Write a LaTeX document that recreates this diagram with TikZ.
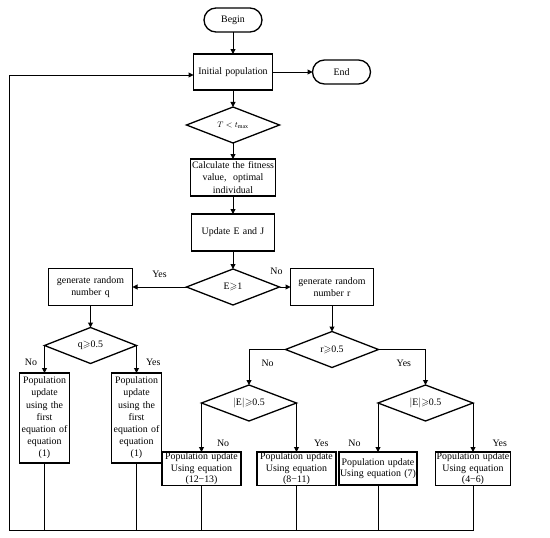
\documentclass[tikz,border=0pt]{standalone}
\usepackage{fontspec}
\usepackage{amssymb}
\setmainfont{Liberation Serif}
\usetikzlibrary{arrows.meta, positioning, shapes.geometric}
\tikzstyle{term} = [rectangle, rounded corners=12pt, draw, line width=1.3pt,
                    minimum width=58pt, minimum height=24pt, outer sep=0pt]
\tikzstyle{proc} = [rectangle, draw, line width=1.3pt, minimum height=37pt,
                    text width=81pt, inner sep=1pt, align=center, outer sep=0pt]
\tikzstyle{dec}  = [diamond, draw, line width=1.3pt, minimum width=93pt,
                    minimum height=36pt, aspect=2.6, inner sep=0pt, outer sep=0pt]
\tikzstyle{tall} = [proc, text width=48pt, minimum height=90pt]
\tikzstyle{upd}  = [proc, text width=77pt, minimum height=33pt,
                    font=\fontsize{9.9}{11.2}\selectfont]
\tikzstyle{arr}  = [-{Triangle[length=5pt, width=5pt]}, line width=1pt]
\tikzstyle{wire} = [line width=1pt]
\tikzstyle{lab}  = [inner sep=1pt]

\begin{document}
\begin{tikzpicture}[x=1pt, y=-1pt, font=\fontsize{9.9}{12.2}\selectfont]
    \useasboundingbox (0,0) rectangle (550,538);

    % main column
    \node[term] (begin) at (233,20) {Begin};
    \node[proc, text width=77pt, minimum height=36pt, below=22pt of begin] (init) {Initial population};
    \node[term, right=40pt of init] (end) {End};
    \node[dec, below=17pt of init] (tcond) {\fontsize{8}{9}\selectfont $T<t_{\max}$};
    \node[proc, text width=85pt, inner sep=0pt, minimum width=83pt, below=16pt of tcond] (fit)
         {Calculate the fitness\\value,\ \ optimal\\individual};
    \node[proc, below=18pt of fit] (updEJ) {Update E and J};
    \node[dec, below=18pt of updEJ] (econd) {E$\geqslant$1};

    % left branch
    \node[proc, text width=82pt, left=54pt of econd] (genq) {generate random\\number q};
    \node[dec, minimum width=92pt, below=22pt of genq] (qcond) {q$\geqslant$0.5};
    \node[tall, below=27.5pt of qcond.west] (popq1) {Population\\update\\using the\\first\\equation of\\equation\\(1)};
    \node[tall, below=27.5pt of qcond.east] (popq2) {Population\\update\\using the\\first\\equation of\\equation\\(1)};

    % right branch
    \node[proc, right=11pt of econd] (genr) {generate random\\number r};
    \node[dec, below=26pt of genr] (rcond) {r$\geqslant$0.5};
    \node[dec, minimum width=95pt] (econd1) at (249,403) {$|$E$|$$\geqslant$0.5};
    \node[dec, minimum width=95pt] (econd2) at (425.5,403) {$|$E$|$$\geqslant$0.5};
    \node[upd, below=49pt of econd1.west] (pop1) {Population update\\Using equation\\(12−13)};
    \node[upd, below=49pt of econd1.east] (pop2) {Population update\\Using equation\\(8−11)};
    \node[upd, text width=76pt, below=49pt of econd2.west] (pop3) {Population update\\Using equation (7)};
    \node[upd, text width=73pt, below=49pt of econd2.east] (pop4) {Population update\\Using equation\\(4−6)};
    \coordinate (back) at (9,530);

    \draw[arr] (begin) -- (init);
    \draw[arr] (init) -- (end);
    \draw[arr] (init) -- (tcond);
    \draw[arr] (tcond) -- (fit);
    \draw[arr] (fit) -- (updEJ);
    \draw[arr] (updEJ) -- (econd);
    \draw[arr] (econd.west) -- node[lab, above=8pt] {Yes} (genq.east);
    \draw[arr] (econd.east) -- node[lab, pos=0, above=11pt, xshift=-3pt] {No} (genr.west);
    \draw[arr] (genq) -- (qcond);
    \draw[arr] (genr) -- (rcond);
    \draw[arr] (qcond.west) -- node[lab, pos=0.6, left=6pt] {No} (popq1.north);
    \draw[arr] (qcond.east) -- node[lab, pos=0.6, right=8pt] {Yes} (popq2.north);
    \draw[arr] (rcond.west) -| node[lab, pos=0.7, right=11pt] {No} (econd1.north);
    \draw[arr] (rcond.east) -| node[lab, pos=0.7, left=13pt] {Yes} (econd2.north);
    \draw[arr] (econd1.west) -- node[lab, pos=0.82, right=14pt] {No} (pop1.north);
    \draw[arr] (econd1.east) -- node[lab, pos=0.82, right=16pt] {Yes} (pop2.north);
    \draw[arr] (econd2.west) -- node[lab, pos=0.82, left=16pt] {No} (pop3.north);
    \draw[arr] (econd2.east) -- node[lab, pos=0.82, right=18pt] {Yes} (pop4.north);

    % back to the start
    \foreach \n in {popq1, popq2, pop1, pop2, pop3}
        \draw[wire] (\n.south) -- (\n.south |- back);
    \draw[arr] (pop4.south) |- (back) |- ([yshift=-3pt]init.west);
\end{tikzpicture}
\end{document}
